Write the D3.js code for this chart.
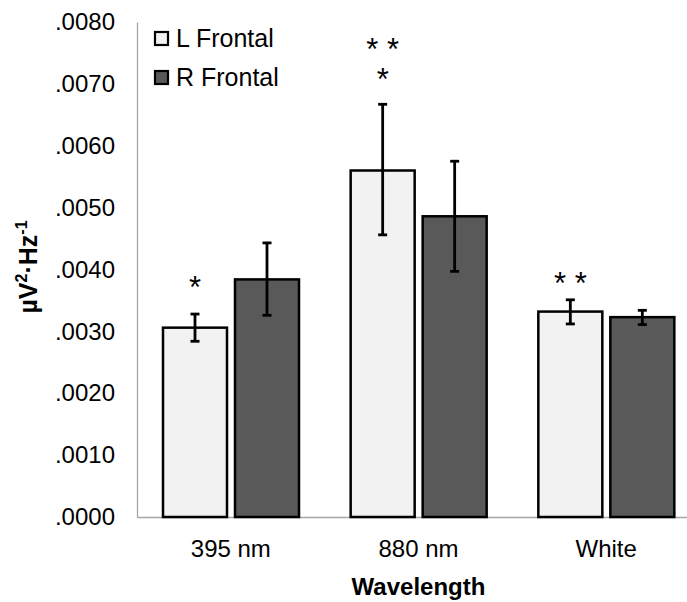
<!DOCTYPE html>
<html lang="en">
<head>
  <meta charset="UTF-8">
  <title></title>
  <script src="https://d3js.org/d3.v7.min.js"></script>
  <style>
    body { margin: 0; background: #fff; }
    text { font-family: Arial, "Liberation Sans", sans-serif; fill: #000; }
  </style>
</head>
<body>
  <svg width="687" height="602"></svg>
  <script>
    // data
    const categories = ["395 nm", "880 nm", "White"];
    const series = ["L Frontal", "R Frontal"];
    const lFrontal = [0.00306, 0.00560, 0.00332];
    const rFrontal = [0.00384, 0.00486, 0.00323];
    const lErr = [[0.00284, 0.00328], [0.00456, 0.00667], [0.00312, 0.00351]];
    const rErr = [[0.00326, 0.00443], [0.00397, 0.00575], [0.00311, 0.00334]];
    const yTicks = [0, 0.001, 0.002, 0.003, 0.004, 0.005, 0.006, 0.007, 0.008];
    // significance marks: category, series, lines of stars, top line position in data units
    const stars = [
      {cat: "395 nm", s: "L Frontal", lines: ["*"], at: 0.00383},
      {cat: "880 nm", s: "L Frontal", lines: ["* *", "*"], at: 0.00767},
      {cat: "White", s: "L Frontal", lines: ["* *"], at: 0.00389}
    ];
    const fills = ["#f2f2f2", "#595959"];

    const rows = categories.map((c, i) => ({
      cat: c,
      vals: [
        {s: series[0], v: lFrontal[i], lo: lErr[i][0], hi: lErr[i][1]},
        {s: series[1], v: rFrontal[i], lo: rErr[i][0], hi: rErr[i][1]}
      ]
    }));

    const svg = d3.select("svg");
    const margin = {top: 22, left: 137, bottom: 85};
    const height = +svg.attr("height");
    const y0 = height - margin.bottom;

    const x = d3.scaleBand().domain(categories).range([margin.left, 700]);
    const x1 = d3.scaleBand().domain(series).range([26, 162]).paddingInner(8 / 72);
    const y = d3.scaleLinear().domain([0, 0.008]).range([y0, margin.top]);
    const color = d3.scaleOrdinal().domain(series).range(fills);

    // y axis
    const yAxis = svg.append("g")
      .attr("transform", `translate(${margin.left},0)`)
      .call(d3.axisLeft(y).tickValues(yTicks).tickSize(0).tickPadding(22)
        .tickFormat(d => d3.format(".4f")(d).replace(/^0/, "")));
    yAxis.select(".domain").attr("stroke", "#a6a6a6").attr("stroke-width", 1.3);
    yAxis.selectAll("text").attr("font-size", 24).attr("font-family", "Arial, 'Liberation Sans', sans-serif");

    // x axis
    const xAxis = svg.append("g")
      .attr("transform", `translate(0,${y0})`)
      .call(d3.axisBottom(x).tickSize(0).tickPadding(23));
    xAxis.select(".domain").attr("stroke", "#a6a6a6").attr("stroke-width", 1.3);
    xAxis.selectAll("text").attr("font-size", 24).attr("font-family", "Arial, 'Liberation Sans', sans-serif");

    // bars
    const groups = svg.append("g").selectAll("g")
      .data(rows).join("g")
      .attr("transform", d => `translate(${x(d.cat)},0)`);

    groups.selectAll("rect")
      .data(d => d.vals).join("rect")
      .attr("x", d => x1(d.s))
      .attr("width", x1.bandwidth())
      .attr("y", d => y(d.v))
      .attr("height", d => y(0) - y(d.v))
      .attr("fill", d => color(d.s))
      .attr("stroke", "#000")
      .attr("stroke-width", 2.5);

    // error bars
    const eb = groups.selectAll("g.err")
      .data(d => d.vals).join("g").attr("class", "err")
      .attr("transform", d => `translate(${x1(d.s) + x1.bandwidth() / 2},0)`)
      .attr("stroke", "#000").attr("stroke-width", 2.8);
    eb.append("line").attr("y1", d => y(d.lo)).attr("y2", d => y(d.hi));
    eb.append("line").attr("x1", -4.5).attr("x2", 4.5).attr("y1", d => y(d.hi)).attr("y2", d => y(d.hi));
    eb.append("line").attr("x1", -4.5).attr("x2", 4.5).attr("y1", d => y(d.lo)).attr("y2", d => y(d.lo));

    // asterisks
    const st = svg.append("g").selectAll("text")
      .data(stars).join("text")
      .attr("text-anchor", "middle")
      .attr("font-size", 31);
    st.selectAll("tspan")
      .data(d => d.lines.map((t, i) => ({t, i, cx: x(d.cat) + x1(d.s) + x1.bandwidth() / 2, cy: y(d.at) + 18})))
      .join("tspan")
      .attr("x", d => d.cx)
      .attr("y", d => d.cy + d.i * 30)
      .text(d => d.t);

    // legend
    const legend = svg.append("g").attr("transform", "translate(155,32)");
    const li = legend.selectAll("g").data(series).join("g")
      .attr("transform", (d, i) => `translate(0,${i * 39})`);
    li.append("rect")
      .attr("width", 13).attr("height", 13)
      .attr("fill", d => color(d))
      .attr("stroke", "#000").attr("stroke-width", 2.2);
    li.append("text")
      .attr("x", 21).attr("y", 15)
      .attr("font-size", 25)
      .text(d => d);

    // axis titles
    svg.append("text")
      .attr("x", (margin.left + 700) / 2)
      .attr("y", 595)
      .attr("text-anchor", "middle")
      .attr("font-size", 24)
      .attr("font-weight", "bold")
      .text("Wavelength");

    const yt = svg.append("text")
      .attr("transform", "translate(37,267) rotate(-90)")
      .attr("text-anchor", "middle")
      .attr("font-size", 25)
      .attr("font-weight", "bold");
    yt.append("tspan").text("µV");
    yt.append("tspan").attr("font-size", 16).attr("dy", -10).text("2");
    yt.append("tspan").attr("dy", 10).text("·Hz");
    yt.append("tspan").attr("font-size", 16).attr("dy", -10).text("-1");
  </script>
</body>
</html>
